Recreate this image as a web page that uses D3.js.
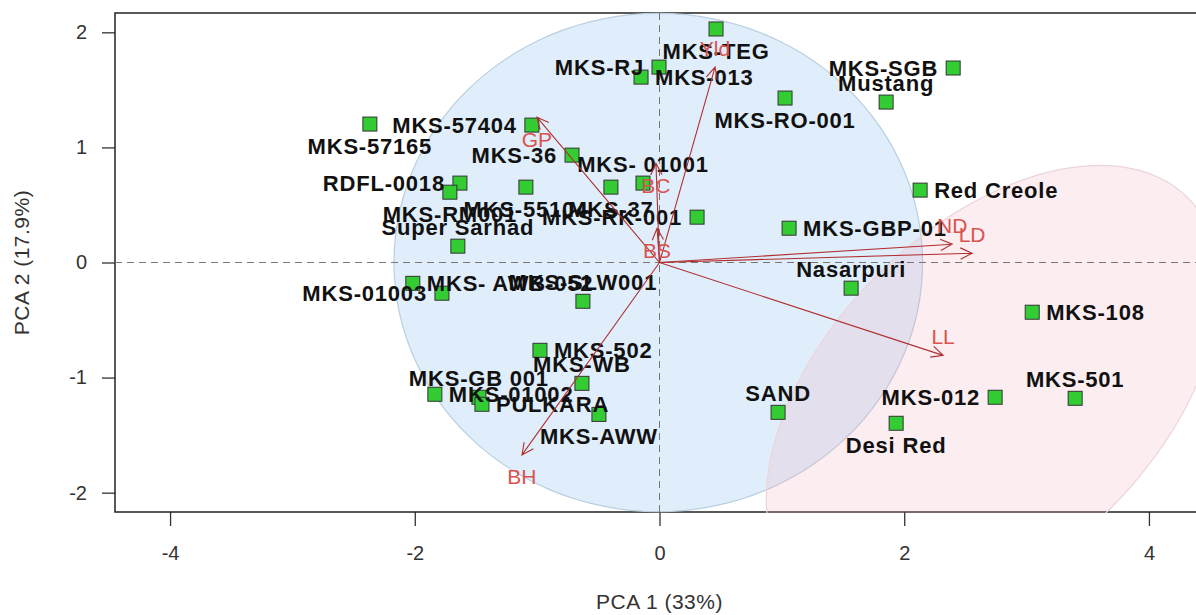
<!DOCTYPE html>
<html>
<head>
<meta charset="utf-8">
<script src="https://cdn.jsdelivr.net/npm/d3@7"></script>
<style>
  body { margin: 0; background: #fff; }
  svg { display: block; font-family: 'Liberation Sans', Arial, sans-serif; }
  .axis text { font-size: 20px; fill: #333; }
  .axis line { stroke: #333; stroke-width: 1.3; }
  .axis-title { font-size: 21px; fill: #333; letter-spacing: 0.5px; }
  .sample-label { font-size: 22px; font-weight: bold; fill: #111; letter-spacing: 0.8px; }
  .var-label { font-size: 21px; fill: #d9534f; }
</style>
</head>
<body>
<svg id="chart"></svg>
<script>
// sample scores (PC1, PC2) and side of the label (1 below, 2 left, 3 above, 4 right)
const sampleNames = ['MKS-TEG', 'MKS-RJ', 'MKS-013', 'MKS-SGB', 'Mustang', 'MKS-RO-001', 'MKS-57404',
  'MKS-57165', 'MKS-36', 'MKS- 01001', 'RDFL-0018', 'MKS-RM001', 'MKS-55104', 'MKS-37', 'MKS-RK-001',
  'Red Creole', 'MKS-GBP-01', 'Super Sarhad', 'MKS- AWB-052', 'MKS-01003', 'MKS-SLW001', 'Nasarpuri',
  'MKS-108', 'MKS-502', 'MKS-WB', 'MKS-01002', 'MKS-GB 001', 'PULKARA', 'MKS-AWW', 'SAND', 'MKS-012',
  'MKS-501', 'Desi Red'];
const samplePC1 = [0.462, -0.004, -0.151, 2.400, 1.852, 1.026, -1.043, -2.367, -0.715, -0.135, -1.631,
  -1.713, -1.092, -0.397, 0.307, 2.130, 1.059, -1.648, -2.016, -1.778, -0.626, 1.566, 3.046, -0.977,
  -0.634, -1.836, -1.476, -1.451, -0.495, 0.969, 2.743, 3.397, 1.934];
const samplePC2 = [2.029, 1.698, 1.611, 1.690, 1.394, 1.429, 1.194, 1.203, 0.933, 0.690, 0.690, 0.611,
  0.655, 0.655, 0.394, 0.629, 0.298, 0.142, -0.181, -0.267, -0.337, -0.223, -0.432, -0.763, -1.050,
  -1.145, -1.171, -1.232, -1.320, -1.302, -1.171, -1.180, -1.397];
const sampleLabelPos = [1, 2, 4, 2, 3, 1, 2, 1, 2, 3, 2, 1, 1, 1, 2, 4, 4, 3, 4, 2, 3, 3, 4, 4, 3, 4, 3, 4,
  1, 3, 2, 3, 1];

// variable loadings
const varNames = ['Yld', 'GP', 'BC', 'BS', 'ND', 'LD', 'LL', 'BH'];
const varPC1 = [0.454, -1.002, -0.029, -0.020, 2.392, 2.555, 2.318, -1.124];
const varPC2 = [1.698, 1.263, 0.863, 0.298, 0.159, 0.081, -0.807, -1.672];
const varLabelPos = [3, 1, 1, 1, 3, 3, 3, 1];

// group ellipses: centre and two conjugate semi-axes
const ellipseCenters = [[-0.01, 0], [2.727, -1.128]];
const ellipseAxisA = [[2.16, 0], [1.590, 1.691]];
const ellipseAxisB = [[0, 2.165], [0.954, -1.014]];
const ellipseFills = ['rgba(135,190,238,0.26)', 'rgba(242,165,185,0.2)'];
const ellipseStrokes = ['#b9cfe0', '#ecd4d9'];

const xTicks = [-4, -2, 0, 2, 4];
const yTicks = [-2, -1, 0, 1, 2];

class PcaBiplot {

  constructor(_config) {
    this.config = {
      parentElement: _config.parentElement,
      containerWidth: _config.containerWidth || 1196,
      containerHeight: _config.containerHeight || 615,
      margin: {top: 13, right: -8, bottom: 103, left: 115}
    }
    this.initVis();
  }

  initVis() {
    let vis = this;

    vis.width = vis.config.containerWidth - vis.config.margin.left - vis.config.margin.right;
    vis.height = vis.config.containerHeight - vis.config.margin.top - vis.config.margin.bottom;

    vis.xScale = d3.scaleLinear()
      .domain([-4.45, 4.45])
      .range([0, vis.width]);

    vis.yScale = d3.scaleLinear()
      .domain([-2.168, 2.168])
      .range([vis.height, 0]);

    // plain hyphen for negatives, like the R output
    vis.xAxis = d3.axisBottom(vis.xScale)
      .tickValues(xTicks)
      .tickSize(14)
      .tickPadding(20)
      .tickFormat(d => String(d));

    vis.yAxis = d3.axisLeft(vis.yScale)
      .tickValues(yTicks)
      .tickSize(13)
      .tickPadding(15)
      .tickFormat(d => String(d));

    vis.svg = d3.select(vis.config.parentElement)
      .attr('width', vis.config.containerWidth)
      .attr('height', vis.config.containerHeight);

    vis.chart = vis.svg.append('g')
      .attr('transform', `translate(${vis.config.margin.left},${vis.config.margin.top})`);

    vis.chart.append('defs').append('clipPath')
      .attr('id', 'plot-clip')
      .append('rect')
      .attr('x', 0)
      .attr('y', -1)
      .attr('width', vis.width)
      .attr('height', vis.height + 2);

    vis.xAxisG = vis.chart.append('g')
      .attr('class', 'axis x-axis')
      .attr('transform', `translate(0,${vis.height})`);

    vis.yAxisG = vis.chart.append('g')
      .attr('class', 'axis y-axis');

    // plot box
    vis.chart.append('rect')
      .attr('width', vis.width)
      .attr('height', vis.height)
      .attr('fill', 'none')
      .attr('stroke', '#222')
      .attr('stroke-width', 1.5);

    vis.svg.append('text')
      .attr('class', 'axis-title')
      .attr('x', vis.config.margin.left + vis.xScale(0))
      .attr('y', 602)
      .attr('dy', '0.35em')
      .attr('text-anchor', 'middle')
      .text('PCA 1 (33%)');

    vis.svg.append('text')
      .attr('class', 'axis-title')
      .attr('transform', `translate(22,${vis.config.margin.top + vis.yScale(0)}) rotate(-90)`)
      .attr('dy', '0.35em')
      .attr('text-anchor', 'middle')
      .text('PCA 2 (17.9%)');

    vis.updateVis();
  }

  updateVis() {
    let vis = this;

    vis.samples = sampleNames.map((name, i) => ({
      name: name, x: samplePC1[i], y: samplePC2[i], pos: sampleLabelPos[i]
    }));

    vis.vars = varNames.map((name, i) => ({
      name: name, x: varPC1[i], y: varPC2[i], pos: varLabelPos[i]
    }));

    // outline of each ellipse, sampled around the full turn
    let steps = d3.range(0, 361, 3).map(a => a * Math.PI / 180);
    vis.ellipses = ellipseCenters.map((c, i) => steps.map(t => [
      c[0] + Math.cos(t) * ellipseAxisA[i][0] + Math.sin(t) * ellipseAxisB[i][0],
      c[1] + Math.cos(t) * ellipseAxisA[i][1] + Math.sin(t) * ellipseAxisB[i][1]
    ]));

    vis.renderVis();
  }

  renderVis() {
    let vis = this;

    vis.xAxisG.call(vis.xAxis).call(g => g.select('.domain').remove());
    vis.yAxisG.call(vis.yAxis).call(g => g.select('.domain').remove());

    let line = d3.line()
      .x(d => vis.xScale(d[0]))
      .y(d => vis.yScale(d[1]));

    vis.chart.append('g')
      .attr('clip-path', 'url(#plot-clip)')
      .selectAll('path')
      .data(vis.ellipses)
      .join('path')
      .attr('d', d => line(d) + 'Z')
      .attr('fill', (d, i) => ellipseFills[i])
      .attr('stroke', (d, i) => ellipseStrokes[i])
      .attr('stroke-width', 1.2);

    // reference lines through the origin
    vis.chart.append('line')
      .attr('x1', 0).attr('x2', vis.width)
      .attr('y1', vis.yScale(0)).attr('y2', vis.yScale(0))
      .attr('stroke', '#777').attr('stroke-dasharray', '7,5');

    vis.chart.append('line')
      .attr('x1', vis.xScale(0)).attr('x2', vis.xScale(0))
      .attr('y1', 0).attr('y2', vis.height)
      .attr('stroke', '#777').attr('stroke-dasharray', '7,5');

    let offset = {
      1: {dx: 0, dy: 22, anchor: 'middle'},
      2: {dx: -15, dy: 0, anchor: 'end'},
      3: {dx: 0, dy: -19, anchor: 'middle'},
      4: {dx: 14, dy: 0, anchor: 'start'}
    };

    vis.chart.selectAll('.sample')
      .data(vis.samples)
      .join('rect')
      .attr('class', 'sample')
      .attr('x', d => vis.xScale(d.x) - 7)
      .attr('y', d => vis.yScale(d.y) - 7)
      .attr('width', 14)
      .attr('height', 14)
      .attr('fill', '#33cc33')
      .attr('stroke', '#333')
      .attr('stroke-width', 1);

    vis.chart.selectAll('.sample-label')
      .data(vis.samples)
      .join('text')
      .attr('class', 'sample-label')
      .attr('x', d => vis.xScale(d.x) + offset[d.pos].dx)
      .attr('y', d => vis.yScale(d.y) + offset[d.pos].dy)
      .attr('dy', '0.36em')
      .attr('text-anchor', d => offset[d.pos].anchor)
      .text(d => d.name);

    // loading arrows with open heads
    let x0 = vis.xScale(0), y0 = vis.yScale(0);
    vis.chart.selectAll('.arrow')
      .data(vis.vars)
      .join('path')
      .attr('class', 'arrow')
      .attr('d', d => {
        let tx = vis.xScale(d.x), ty = vis.yScale(d.y);
        let a = Math.atan2(ty - y0, tx - x0);
        let len = 13, spread = 0.45;
        let w1 = [tx - len * Math.cos(a - spread), ty - len * Math.sin(a - spread)];
        let w2 = [tx - len * Math.cos(a + spread), ty - len * Math.sin(a + spread)];
        return `M${x0},${y0}L${tx},${ty}M${w1[0]},${w1[1]}L${tx},${ty}L${w2[0]},${w2[1]}`;
      })
      .attr('fill', 'none')
      .attr('stroke', '#b03030')
      .attr('stroke-width', 1.1);

    vis.chart.selectAll('.var-label')
      .data(vis.vars)
      .join('text')
      .attr('class', 'var-label')
      .attr('x', d => vis.xScale(d.x) + offset[d.pos].dx)
      .attr('y', d => vis.yScale(d.y) + offset[d.pos].dy)
      .attr('dy', '0.36em')
      .attr('text-anchor', 'middle')
      .text(d => d.name);
  }
}

new PcaBiplot({parentElement: '#chart'});
</script>
</body>
</html>
